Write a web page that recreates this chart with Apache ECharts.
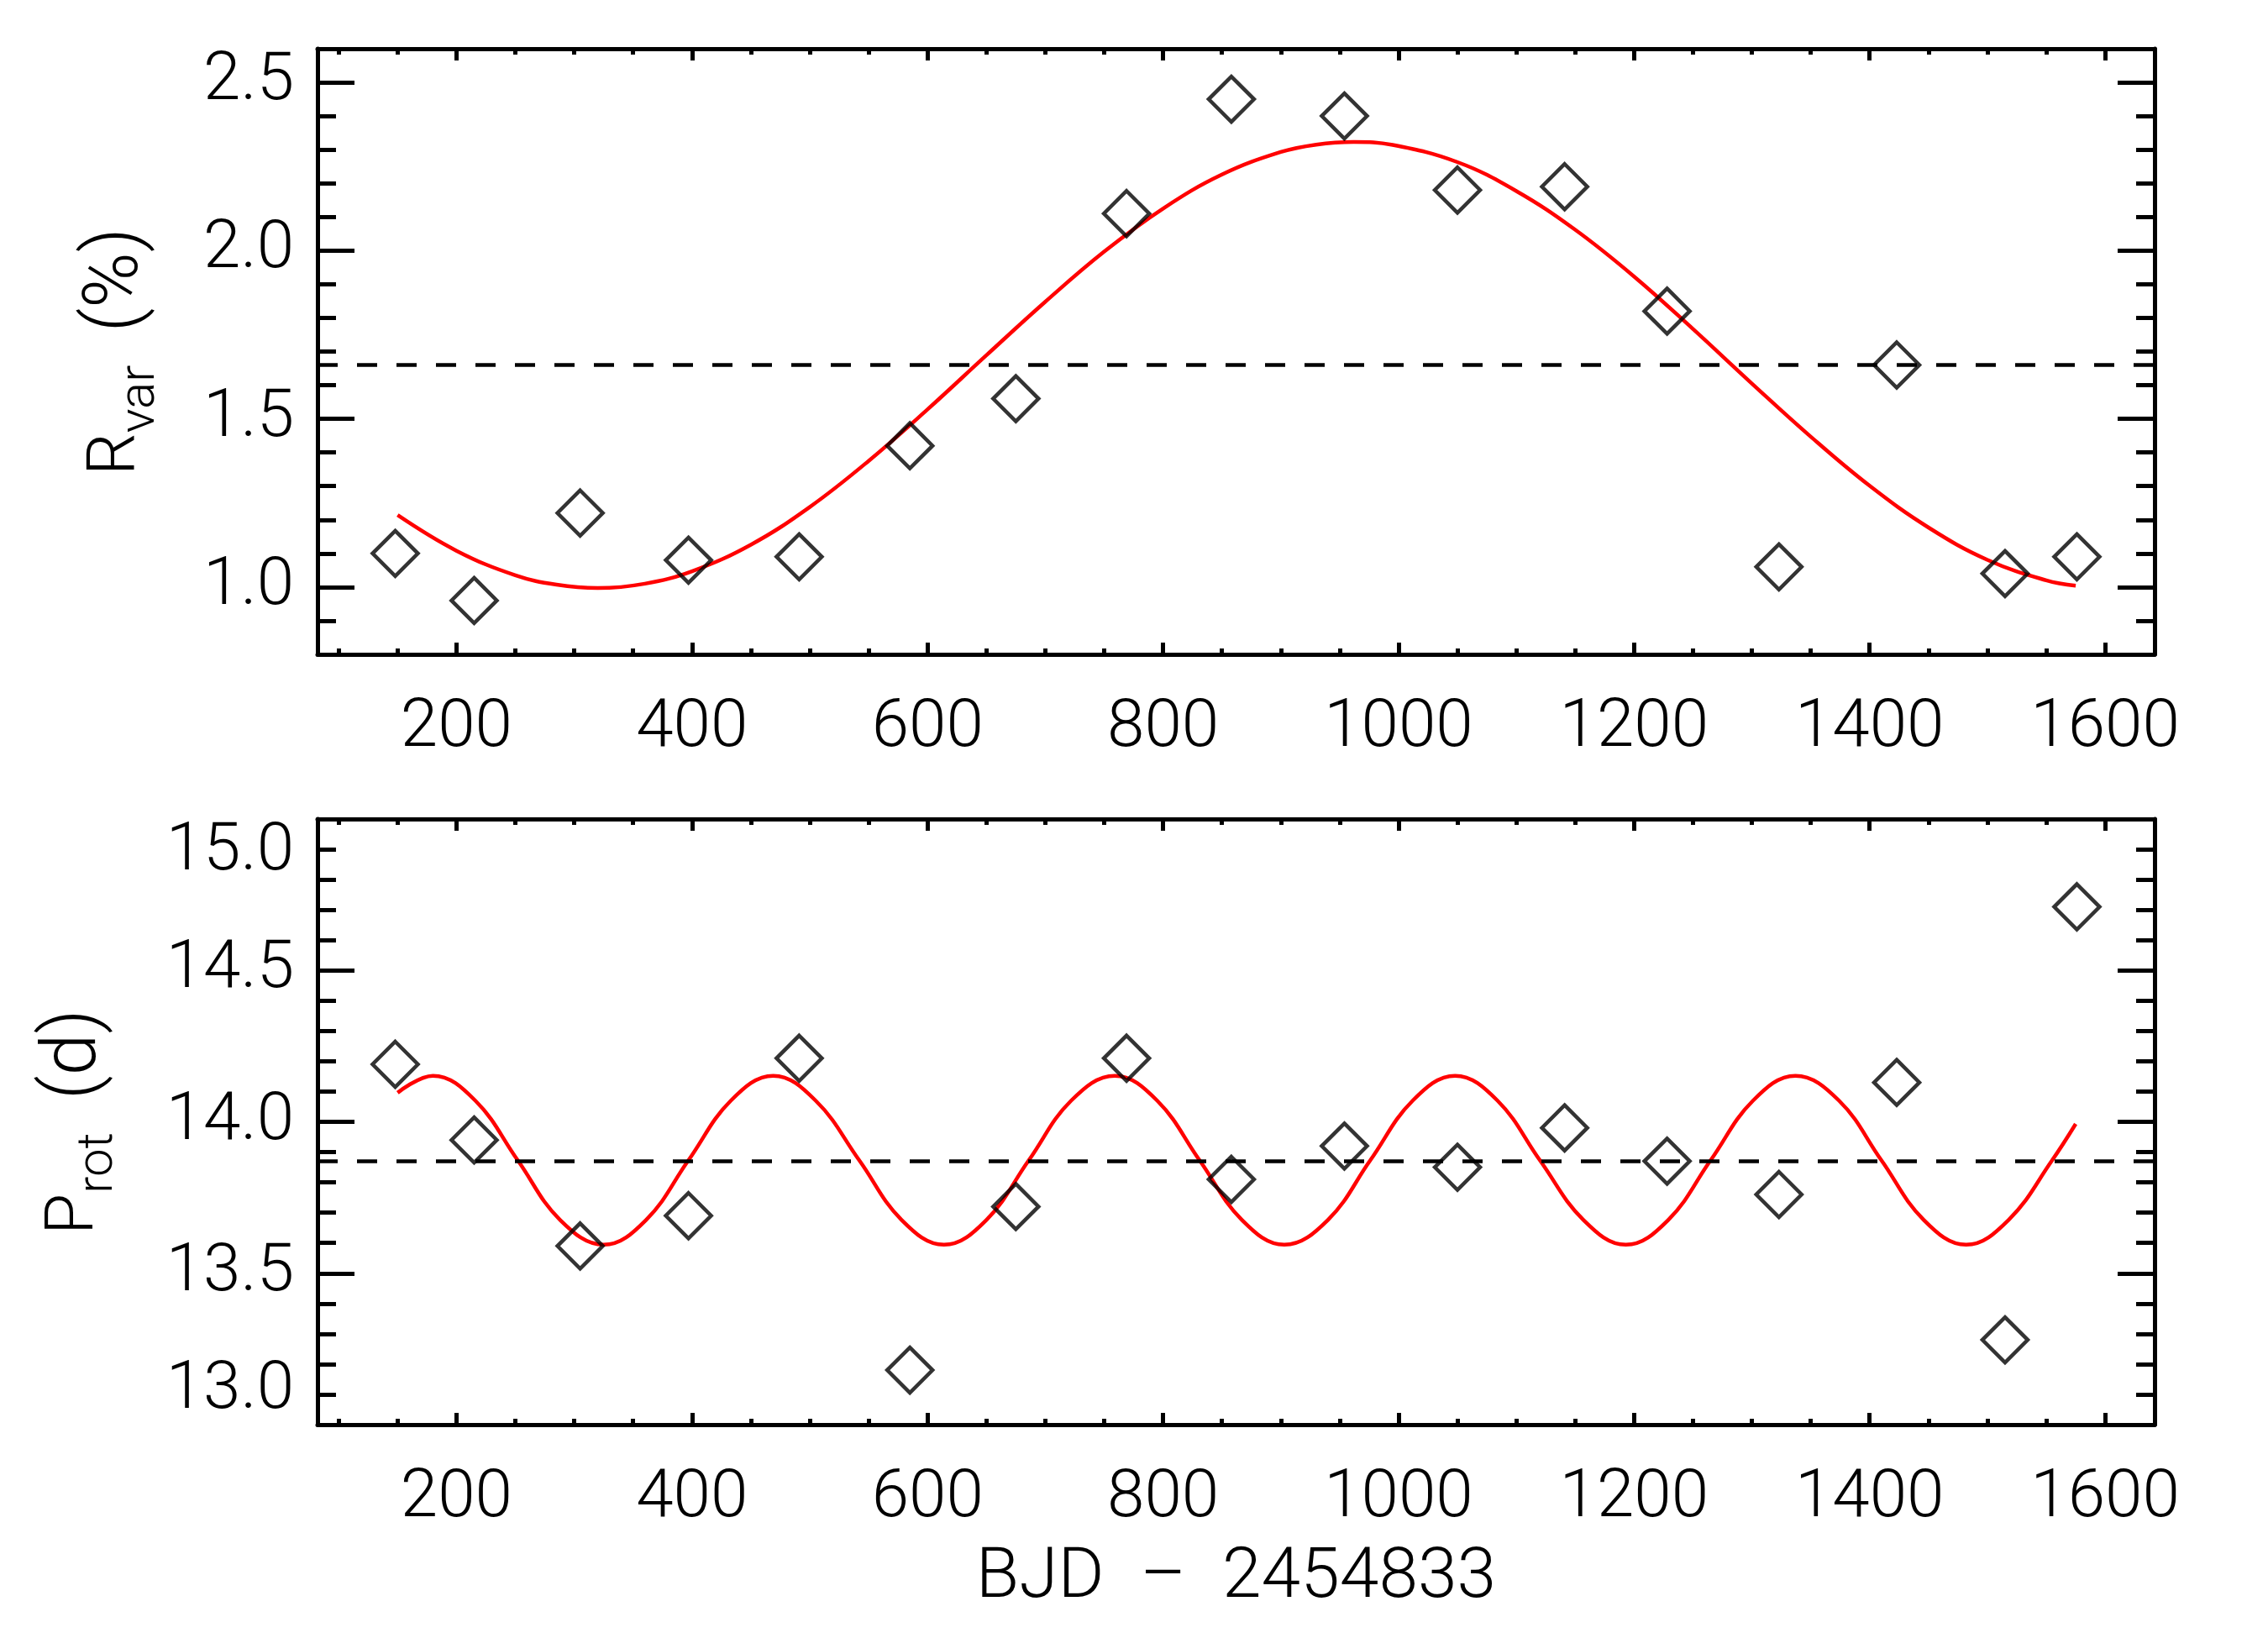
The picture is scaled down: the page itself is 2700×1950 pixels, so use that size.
<!DOCTYPE html>
<html>
<head>
<meta charset="utf-8">
<script src="https://cdn.jsdelivr.net/npm/echarts@6/dist/echarts.min.js"></script>
<style>
  html, body { margin: 0; padding: 0; background: #fff; }
  #chart { width: 2700px; height: 1950px; }
</style>
</head>
<body>
<div id="chart"></div>
<script>
// observation epochs (BJD - 2454833)
const epochs = [148, 215, 305, 397, 491, 585, 675, 769, 858, 954, 1050, 1141, 1228, 1323, 1423, 1515, 1576];
// relative variability R_var (%)
const rvar = [1.10, 0.96, 1.22, 1.08, 1.09, 1.42, 1.56, 2.11, 2.45, 2.40, 2.18, 2.19, 1.82, 1.06, 1.66, 1.04, 1.09];
// rotation period P_rot (d)
const prot = [14.19, 13.94, 13.59, 13.69, 14.21, 13.18, 13.72, 14.21, 13.81, 13.92, 13.85, 13.98, 13.87, 13.76, 14.13, 13.28, 14.71];

// red fit, top panel
const fitTopX = [150, 200, 250, 285, 320, 360, 400, 450, 500, 550, 600, 650, 700, 750, 800, 850, 900, 930, 962,
  995, 1050, 1100, 1150, 1200, 1250, 1300, 1350, 1400, 1450, 1500, 1550, 1575];
const fitTopY = [1.214, 1.108, 1.035, 1.007, 0.997, 1.010, 1.047, 1.126, 1.238, 1.375, 1.528, 1.689, 1.848, 1.997,
  2.125, 2.226, 2.293, 2.315, 2.323, 2.314, 2.263, 2.177, 2.062, 1.923, 1.767, 1.605, 1.447, 1.301, 1.177, 1.081,
  1.020, 1.004];

// red fit, bottom panel
const fitBotX = [150, 180, 216, 252, 288, 325, 361, 397, 433, 469, 505, 542, 578, 614, 650, 686, 722, 759, 795,
  831, 867, 903, 940, 976, 1012, 1048, 1084, 1120, 1157, 1193, 1229, 1265, 1301, 1337, 1374, 1410, 1446, 1482,
  1518, 1555, 1575];
const fitBotY = [14.096, 14.152, 14.070, 13.873, 13.676, 13.594, 13.676, 13.873, 14.070, 14.152, 14.070, 13.873,
  13.676, 13.594, 13.676, 13.873, 14.070, 14.152, 14.070, 13.873, 13.676, 13.594, 13.676, 13.873, 14.070, 14.152,
  14.070, 13.873, 13.676, 13.594, 13.676, 13.873, 14.070, 14.152, 14.070, 13.873, 13.676, 13.594, 13.676, 13.873,
  13.993];

// mean levels (dashed)
const meanRvar = 1.66;
const meanProt = 13.873;

const FONT = 'Roboto';
const WEIGHT = 300;
const LW = 5;

function zip(a, b) { return a.map((v, i) => [v, b[i]]); }

function xAxisFor(grid, top) {
  return {
    type: 'value', gridIndex: grid, position: top ? 'top' : 'bottom',
    min: 82, max: 1642, splitNumber: 8,
    axisLine: { lineStyle: { color: '#000', width: LW } },
    axisTick: { inside: true, length: 14, lineStyle: { color: '#000', width: LW } },
    minorTick: { show: true, splitNumber: 4, length: 7, lineStyle: { color: '#000', width: LW } },
    splitLine: { show: false },
    axisLabel: {
      show: !top, margin: 49, color: '#000', fontFamily: FONT, fontWeight: WEIGHT, fontSize: 80,
      showMinLabel: false, showMaxLabel: false,
      formatter: v => (v % 200 === 0 ? String(v) : '')
    }
  };
}

function yAxisFor(grid, right, min, max, extra) {
  return Object.assign({
    type: 'value', gridIndex: grid, position: right ? 'right' : 'left',
    min: min, max: max, interval: 0.5,
    axisLine: { lineStyle: { color: '#000', width: LW } },
    axisTick: { inside: true, length: 44, lineStyle: { color: '#000', width: LW } },
    minorTick: { show: true, splitNumber: 5, length: 22, lineStyle: { color: '#000', width: LW } },
    splitLine: { show: false },
    axisLabel: {
      show: !right, margin: 28, color: '#000', fontFamily: FONT, fontWeight: WEIGHT, fontSize: 80,
      formatter: v => v.toFixed(1)
    }
  }, extra || {});
}

const nameRich = {
  r: { fontFamily: FONT, fontWeight: WEIGHT, fontSize: 80, lineHeight: 116, color: '#000' },
  p: { fontFamily: FONT, fontWeight: WEIGHT, fontSize: 90, lineHeight: 116, color: '#000' },
  s: { fontFamily: FONT, fontWeight: WEIGHT, fontSize: 60, lineHeight: 60, verticalAlign: 'bottom', color: '#000' }
};

const diamondStyle = { color: 'rgba(0,0,0,0)', borderColor: '#000', borderWidth: 4.5 };
const dashLine = { color: '#000', width: 4.7, type: [24, 23] };
const redLine = { color: '#ff0000', width: 4.5 };

const yTop = yAxisFor(0, false, 0.8, 2.6, {
  name: '{r|R}{s|var}{r|  }{p|(%)}', nameLocation: 'middle', nameRotate: 90, nameGap: 180,
  nameTextStyle: { rich: nameRich }
});
yTop.interval = undefined;
yTop.splitNumber = 4;
yTop.axisLabel.showMinLabel = false;
yTop.axisLabel.showMaxLabel = false;
yTop.axisLabel.formatter = v => (Math.abs(v * 2 - Math.round(v * 2)) < 1e-6 ? v.toFixed(1) : '');

const yTopR = yAxisFor(0, true, 0.8, 2.6);
yTopR.interval = undefined;
yTopR.splitNumber = 4;

const yBot = yAxisFor(1, false, 13, 15, {
  name: '{r|P}{s|rot}{r|  }{p|(d)}', nameLocation: 'middle', nameRotate: 90, nameGap: 230,
  nameTextStyle: { rich: nameRich }
});
yBot.axisLabel.verticalAlignMinLabel = 'bottom';
yBot.axisLabel.verticalAlignMaxLabel = 'top';

const xBot = xAxisFor(1, false);
xBot.name = 'BJD\u2002\u2013\u20022454833';
xBot.nameLocation = 'middle';
xBot.nameGap = 142;
xBot.nameTextStyle = { fontFamily: FONT, fontWeight: WEIGHT, fontSize: 84, color: '#000' };

const option = {
  backgroundColor: '#fff',
  animation: false,
  grid: [
    { left: 378, top: 58, width: 2187, height: 721, outerBoundsMode: 'none' },
    { left: 378, top: 975, width: 2187, height: 721, outerBoundsMode: 'none' }
  ],
  xAxis: [xAxisFor(0, false), xAxisFor(0, true), xBot, xAxisFor(1, true)],
  yAxis: [yTop, yTopR, yBot, yAxisFor(1, true, 13, 15)],
  series: [
    {
      type: 'line', xAxisIndex: 0, yAxisIndex: 0, data: zip(fitTopX, fitTopY),
      smooth: 0.4, showSymbol: false, lineStyle: redLine, z: 2
    },
    {
      type: 'scatter', xAxisIndex: 0, yAxisIndex: 0, data: zip(epochs, rvar),
      symbol: 'diamond', symbolSize: 54, itemStyle: diamondStyle, z: 3,
      markLine: {
        silent: true, symbol: ['none', 'none'], label: { show: false },
        lineStyle: dashLine, data: [{ yAxis: meanRvar }]
      }
    },
    {
      type: 'line', xAxisIndex: 2, yAxisIndex: 2, data: zip(fitBotX, fitBotY),
      smooth: 0.4, showSymbol: false, lineStyle: redLine, z: 2
    },
    {
      type: 'scatter', xAxisIndex: 2, yAxisIndex: 2, data: zip(epochs, prot),
      symbol: 'diamond', symbolSize: 54, itemStyle: diamondStyle, z: 3,
      markLine: {
        silent: true, symbol: ['none', 'none'], label: { show: false },
        lineStyle: dashLine, data: [{ yAxis: meanProt }]
      }
    }
  ]
};

const chart = echarts.init(document.getElementById('chart'));
chart.setOption(option);
</script>
</body>
</html>
